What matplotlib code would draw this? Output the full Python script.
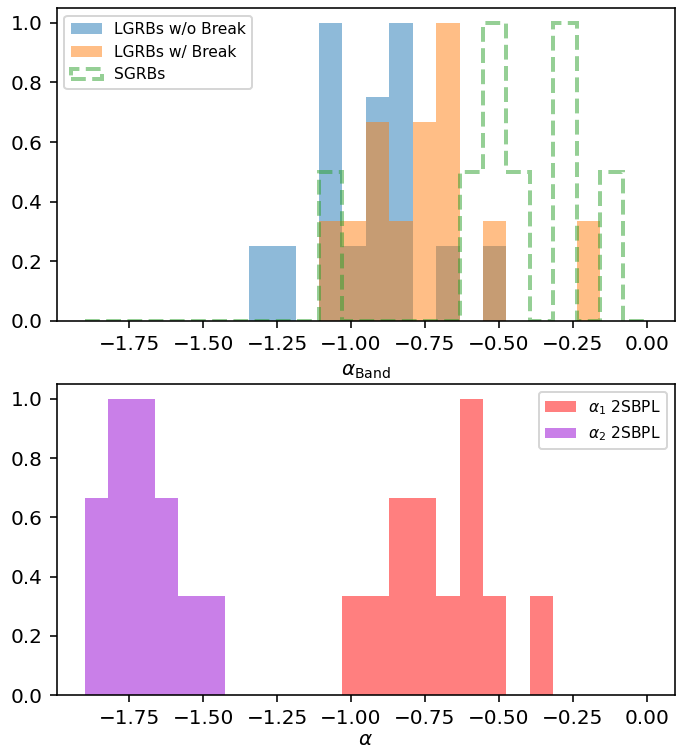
#! /usr/bin/env python3
# -*- utf-8 -*-

'''
Normalised histograms of the low-energy spectral index for GRB samples
'''

import matplotlib
matplotlib.use('Agg')
import matplotlib.pyplot as plt
import numpy as np


# common binning (24 bins between -1.9 and 0)
bin_lo = -1.9
bin_hi = 0.0
n_bins = 24

# counts per bin
lgrb_nobreak = [0, 0, 0, 0, 0, 0, 0, 1, 1, 0, 4, 1, 3, 4, 0, 1, 0, 1, 0, 0, 0, 0, 0, 0]
lgrb_break = [0, 0, 0, 0, 0, 0, 0, 0, 0, 0, 1, 1, 2, 1, 2, 3, 0, 1, 0, 0, 0, 1, 0, 0]
sgrb = [0, 0, 0, 0, 0, 0, 0, 0, 0, 0, 1, 0, 0, 0, 0, 0, 1, 2, 1, 0, 2, 0, 1, 0]
alpha1_2sbpl = [0, 0, 0, 0, 0, 0, 0, 0, 0, 0, 0, 1, 1, 2, 2, 1, 3, 1, 0, 1, 0, 0, 0, 0]
alpha2_2sbpl = [2, 3, 3, 2, 1, 1, 0, 0, 0, 0, 0, 0, 0, 0, 0, 0, 0, 0, 0, 0, 0, 0, 0, 0]


def norm_hist(ax, counts, edges, **kw):
    '''histogram scaled so that the highest bin is 1'''
    counts = np.asarray(counts, dtype=float)
    centers = 0.5 * (edges[:-1] + edges[1:])
    return ax.hist(centers, bins=edges, weights=counts / counts.max(), **kw)


def main():
    edges = np.linspace(bin_lo, bin_hi, n_bins + 1)

    dpi = 144.0
    fig = plt.figure(figsize=(692 / dpi, 751 / dpi), dpi=dpi)
    ax1 = fig.add_axes([0.0819, 0.573, 0.8935, 0.4163])
    ax2 = fig.add_axes([0.0819, 0.0745, 0.8935, 0.4142])

    # top panel
    norm_hist(ax1, lgrb_nobreak, edges, alpha=0.5, color='C0', label='LGRBs w/o Break')
    norm_hist(ax1, lgrb_break, edges, alpha=0.5, color='C1', label='LGRBs w/ Break')
    norm_hist(ax1, sgrb, edges, alpha=0.5, color='C2', histtype='step',
              linestyle='--', linewidth=2, label='SGRBs')
    ax1.set_xlabel(r'$\alpha_{\rm Band}$')
    ax1.legend(loc='upper left', fontsize=7.75)

    # bottom panel
    norm_hist(ax2, alpha1_2sbpl, edges, alpha=0.5, color='red', label=r'$\alpha_1$ 2SBPL')
    norm_hist(ax2, alpha2_2sbpl, edges, alpha=0.5, color='darkviolet', label=r'$\alpha_2$ 2SBPL')
    ax2.set_xlabel(r'$\alpha$', labelpad=1)
    ax2.legend(loc='upper right', fontsize=7.75)

    for ax in (ax1, ax2):
        ax.set_xlim(-1.995, 0.095)
        ax.set_ylim(0, 1.05)

    fig.savefig('out.png', dpi=dpi)


if __name__ == '__main__':
    main()
